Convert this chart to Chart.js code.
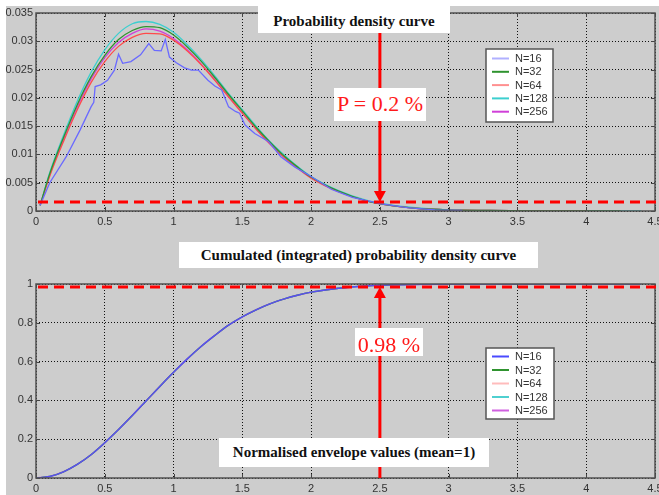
<!DOCTYPE html>
<html>
<head>
<meta charset="utf-8">
<script src="https://cdn.jsdelivr.net/npm/chart.js@4.4.0/dist/chart.umd.min.js"></script>
<style>
  html, body { margin: 0; padding: 0; }
  body { width: 659px; height: 495px; background: #fff; position: relative; overflow: hidden; }
  #bg { position: absolute; left: 6px; top: 6px; right: 0; bottom: 0; background: #cdcdcd; }
  canvas { position: absolute; left: 0; top: 0; }
  .box { position: absolute; background: #fff; white-space: nowrap; text-align: center;
         font-family: "Liberation Serif", "Times New Roman", serif; box-sizing: border-box; }
  .ttl { font-weight: bold; font-size: 15px; color: #111; }
  .red { color: #ff1a1a; font-size: 22px; }
</style>
</head>
<body>
<div id="bg"></div>
<canvas id="topChart" width="659" height="495"></canvas>
<canvas id="bottomChart" width="659" height="495"></canvas>

<div class="box ttl" style="left:258px;top:0;width:192px;height:33px;padding-top:6px;line-height:30px">Probability density curve</div>
<div class="box red" style="left:334px;top:88px;width:92px;height:33px;line-height:31px">P = 0.2 %</div>
<div class="box ttl" style="left:179px;top:242px;width:359px;height:26px;line-height:26px">Cumulated (integrated) probability density curve</div>
<div class="box red" style="left:355px;top:328px;width:68px;height:28px;line-height:34px">0.98 %</div>
<div class="box ttl" style="left:219px;top:438px;width:270px;height:29px;line-height:29px">Normalised envelope values (mean=1)</div>

<script>
// ---- data ----
var labels = ["N=16", "N=32", "N=64", "N=128", "N=256"];

// probability density, smooth series share one x grid
var densX = [0.03, 0.1, 0.2, 0.3, 0.4, 0.5, 0.6, 0.7, 0.8, 0.9, 1.0, 1.1, 1.2, 1.3, 1.4, 1.5, 1.6, 1.7, 1.8, 1.9, 2.0, 2.2, 2.4, 2.6, 2.8, 3.0, 3.3, 3.6, 4.0, 4.1, 4.25, 4.4];
var dens32 = [0.0010, 0.0066, 0.0130, 0.0188, 0.0237, 0.0275, 0.0303, 0.0319, 0.0326, 0.0324, 0.0311, 0.0290, 0.0265, 0.0236, 0.0206, 0.0177, 0.0148, 0.0122, 0.0098, 0.0078, 0.0060, 0.0035, 0.0018, 0.0009, 0.0004, 0.0002, 0.0001, 0.00003, 0.00001, 0, 0, null];
var dens64 = [0.0010, 0.0062, 0.0123, 0.0179, 0.0227, 0.0264, 0.0291, 0.0307, 0.0314, 0.0313, 0.0302, 0.0283, 0.0259, 0.0231, 0.0202, 0.0173, 0.0145, 0.0119, 0.0096, 0.0076, 0.0058, 0.0034, 0.0018, 0.0009, 0.0004, 0.0002, 0.0001, 0.00003, 0, null, null, null];
var dens128 = [0.0010, 0.0068, 0.0134, 0.0194, 0.0245, 0.0285, 0.0314, 0.0331, 0.0335, 0.0330, 0.0316, 0.0294, 0.0268, 0.0239, 0.0208, 0.0179, 0.0150, 0.0123, 0.0100, 0.0079, 0.0061, 0.0036, 0.0019, 0.0010, 0.0005, 0.0002, 0.0001, 0.00003, 0.00001, 0, 0, 0];
var dens256 = [0.0010, 0.0064, 0.0127, 0.0184, 0.0233, 0.0271, 0.0298, 0.0314, 0.0322, 0.0318, 0.0305, 0.0285, 0.0260, 0.0232, 0.0202, 0.0173, 0.0145, 0.0119, 0.0096, 0.0076, 0.0059, 0.0034, 0.0018, 0.0009, 0.0004, 0.0002, 0.0001, 0.00003, 0.00001, 0, null, null];

// N=16 is noisy, its own x grid
var dens16X = [0.03, 0.1, 0.22, 0.32, 0.40, 0.42, 0.43, 0.47, 0.52, 0.57, 0.60, 0.63, 0.69, 0.76, 0.82, 0.86, 0.91, 0.94, 0.97, 1.02, 1.08, 1.13, 1.18, 1.25, 1.30, 1.35, 1.40, 1.45, 1.48, 1.52, 1.59, 1.69, 1.78, 1.88, 2.0, 2.15, 2.3, 2.5, 2.7, 2.9, 3.1];
var dens16 = [0.0010, 0.0050, 0.0096, 0.0143, 0.0184, 0.0192, 0.0220, 0.0223, 0.0231, 0.0249, 0.0277, 0.0261, 0.0264, 0.0276, 0.0296, 0.0284, 0.0283, 0.0303, 0.0272, 0.0262, 0.0253, 0.0249, 0.0249, 0.0231, 0.0221, 0.0214, 0.0184, 0.0176, 0.0173, 0.0152, 0.0137, 0.0123, 0.0096, 0.0078, 0.0061, 0.0038, 0.0024, 0.0013, 0.0006, 0.0002, 0.0001];

// cumulated curve (all N lie on top of each other)
var cdfX = [0, 0.1, 0.2, 0.3, 0.4, 0.5, 0.6, 0.7, 0.8, 0.9, 1.0, 1.1, 1.2, 1.3, 1.4, 1.5, 1.6, 1.7, 1.8, 1.9, 2.0, 2.2, 2.4, 2.6, 2.8, 3.0, 3.5, 4.0, 4.4];
var cdfY = [0, 0.008, 0.032, 0.070, 0.120, 0.182, 0.250, 0.322, 0.397, 0.472, 0.545, 0.614, 0.678, 0.735, 0.788, 0.831, 0.867, 0.898, 0.922, 0.942, 0.958, 0.978, 0.990, 0.996, 0.998, 0.999, 1.0, 1.0, 1.0];

var xTicks = [0, 0.5, 1, 1.5, 2, 2.5, 3, 3.5, 4, 4.5];
var densMax = 0.035, densStep = 0.005;
var cdfMax = 1, cdfStep = 0.2;
var markX = 2.5;          // where the arrows sit
var densLevel = 0.0016;   // P = 0.2 %
var cdfLevel = 0.985;     // 0.98 %

function pts(xs, ys) {
    var out = [];
    for (var i = 0; i < xs.length; i++) out.push({x: xs[i], y: ys[i]});
    return out;
}

function fmt(v) { return String(+v.toFixed(4)); }

// frame, inner ticks, red dashed level, red arrow, legend box
var extras = {
    id: 'extras',
    afterDatasetsDraw: function(chart, args, o) {
        var ctx = chart.ctx, a = chart.chartArea;
        var sx = chart.scales.x, sy = chart.scales.y;
        ctx.save();

        // inner tick marks
        ctx.strokeStyle = '#444';
        ctx.lineWidth = 1;
        ctx.beginPath();
        sx.ticks.forEach(function(t) {
            var px = Math.round(sx.getPixelForValue(t.value)) + 0.5;
            ctx.moveTo(px, a.bottom); ctx.lineTo(px, a.bottom - 4);
            ctx.moveTo(px, a.top); ctx.lineTo(px, a.top + 4);
        });
        sy.ticks.forEach(function(t) {
            var py = Math.round(sy.getPixelForValue(t.value)) + 0.5;
            ctx.moveTo(a.left, py); ctx.lineTo(a.left + 4, py);
            ctx.moveTo(a.right, py); ctx.lineTo(a.right - 4, py);
        });
        ctx.stroke();

        // box
        ctx.strokeStyle = '#505050';
        ctx.lineWidth = 1.5;
        ctx.strokeRect(a.left, a.top, a.right - a.left, a.bottom - a.top);

        // legend
        var L = o.legend;
        ctx.fillStyle = '#fff';
        ctx.fillRect(L.x, L.y, L.w, L.h);
        ctx.strokeStyle = '#555';
        ctx.lineWidth = 1.5;
        ctx.strokeRect(L.x, L.y, L.w, L.h);
        ctx.font = '11px "Liberation Sans", Arial, sans-serif';
        ctx.textBaseline = 'middle';
        ctx.textAlign = 'left';
        chart.data.datasets.forEach(function(ds, i) {
            var y = L.y + L.first + i * L.row;
            ctx.strokeStyle = ds.legendColor || ds.borderColor;
            ctx.lineWidth = 2;
            ctx.beginPath();
            ctx.moveTo(L.x + 6, y); ctx.lineTo(L.x + 23, y);
            ctx.stroke();
            ctx.fillStyle = '#333';
            ctx.fillText(ds.label, L.x + 29, y + 0.5);
        });

        // dashed level line
        var ly = sy.getPixelForValue(o.level);
        ctx.strokeStyle = '#ff0000';
        ctx.lineWidth = 3;
        ctx.setLineDash([10, 6]);
        ctx.beginPath();
        ctx.moveTo(a.left + 2, ly);
        ctx.lineTo(chart.width, ly);
        ctx.stroke();
        ctx.setLineDash([]);

        // arrow
        var ax = sx.getPixelForValue(o.arrowX);
        var y0 = sy.getPixelForValue(o.arrowFrom);
        var dir = ly > y0 ? 1 : -1;
        var head = 11;
        ctx.beginPath();
        ctx.moveTo(ax, y0);
        ctx.lineTo(ax, ly - dir * head);
        ctx.stroke();
        ctx.fillStyle = '#ff0000';
        ctx.beginPath();
        ctx.moveTo(ax, ly);
        ctx.lineTo(ax - 6, ly - dir * head);
        ctx.lineTo(ax + 6, ly - dir * head);
        ctx.closePath();
        ctx.fill();

        ctx.restore();
    }
};

function makeOptions(cfg) {
    var tickFont = {family: '"Liberation Sans", Arial, sans-serif', size: 11};
    return {
        responsive: false,
        animation: false,
        layout: {padding: cfg.padding},
        plugins: {
            legend: {display: false},
            tooltip: {enabled: false},
            extras: cfg.extras
        },
        elements: {point: {radius: 0}},
        scales: {
            x: {
                type: 'linear', min: 0, max: 4.5,
                afterBuildTicks: function(s) { s.ticks = xTicks.map(function(v) { return {value: v}; }); },
                afterFit: function(s) { s.height = cfg.xHeight; s.paddingLeft = 0; s.paddingRight = 0; },
                ticks: {padding: 4, color: '#333', font: tickFont, maxRotation: 0, autoSkip: false, callback: fmt},
                grid: {color: '#111', drawTicks: false},
                border: {display: false, dash: [1, 2]}
            },
            y: {
                min: 0, max: cfg.yMax,
                afterFit: function(s) { s.width = 36; s.paddingTop = 0; s.paddingBottom = 0; },
                ticks: {stepSize: cfg.yStep, padding: 3, color: '#333', font: tickFont, callback: fmt},
                grid: {color: '#111', drawTicks: false},
                border: {display: false, dash: [1, 2]}
            }
        }
    };
}

new Chart(document.getElementById('topChart'), {
    type: 'line',
    data: {
        datasets: [
            {label: labels[0], data: pts(dens16X, dens16), borderColor: '#6a6aff', legendColor: '#b0b0ff', borderWidth: 1.3, tension: 0},
            {label: labels[1], data: pts(densX, dens32), borderColor: '#2f932f', borderWidth: 1.3, cubicInterpolationMode: 'monotone'},
            {label: labels[2], data: pts(densX, dens64), borderColor: '#ff4a4a', legendColor: '#ff9090', borderWidth: 1.3, cubicInterpolationMode: 'monotone'},
            {label: labels[3], data: pts(densX, dens128), borderColor: '#3ccfcf', borderWidth: 1.3, cubicInterpolationMode: 'monotone'},
            {label: labels[4], data: pts(densX, dens256), borderColor: '#d040d8', borderWidth: 1.3, cubicInterpolationMode: 'monotone'}
        ]
    },
    options: makeOptions({
        padding: {left: 0, top: 13, right: 4, bottom: 264},
        xHeight: 20, yMax: densMax, yStep: densStep,
        extras: {
            level: densLevel, arrowX: markX, arrowFrom: 0.0315,
            legend: {x: 486, y: 49, w: 67, h: 73, first: 9.5, row: 13.3}
        }
    }),
    plugins: [extras]
});

new Chart(document.getElementById('bottomChart'), {
    type: 'line',
    data: {
        datasets: [
            {label: labels[0], data: pts(cdfX, cdfY), borderColor: '#5a4cf5', legendColor: '#4a4aff', borderWidth: 1.4, cubicInterpolationMode: 'monotone'},
            {label: labels[1], data: pts(cdfX, cdfY), borderColor: '#2f932f', borderWidth: 1.3, cubicInterpolationMode: 'monotone'},
            {label: labels[2], data: pts(cdfX, cdfY), borderColor: '#ffbcbc', borderWidth: 1.3, cubicInterpolationMode: 'monotone'},
            {label: labels[3], data: pts(cdfX, cdfY), borderColor: '#4fd0d0', borderWidth: 1.3, cubicInterpolationMode: 'monotone'},
            {label: labels[4], data: pts(cdfX, cdfY), borderColor: '#d060e0', borderWidth: 1.5, cubicInterpolationMode: 'monotone'}
        ]
    },
    options: makeOptions({
        padding: {left: 0, top: 284, right: 4, bottom: 0},
        xHeight: 17, yMax: cdfMax, yStep: cdfStep,
        extras: {
            level: cdfLevel, arrowX: markX, arrowFrom: 0,
            legend: {x: 486, y: 348, w: 68, h: 71, first: 8.5, row: 13.5}
        }
    }),
    plugins: [extras]
});
</script>
</body>
</html>
